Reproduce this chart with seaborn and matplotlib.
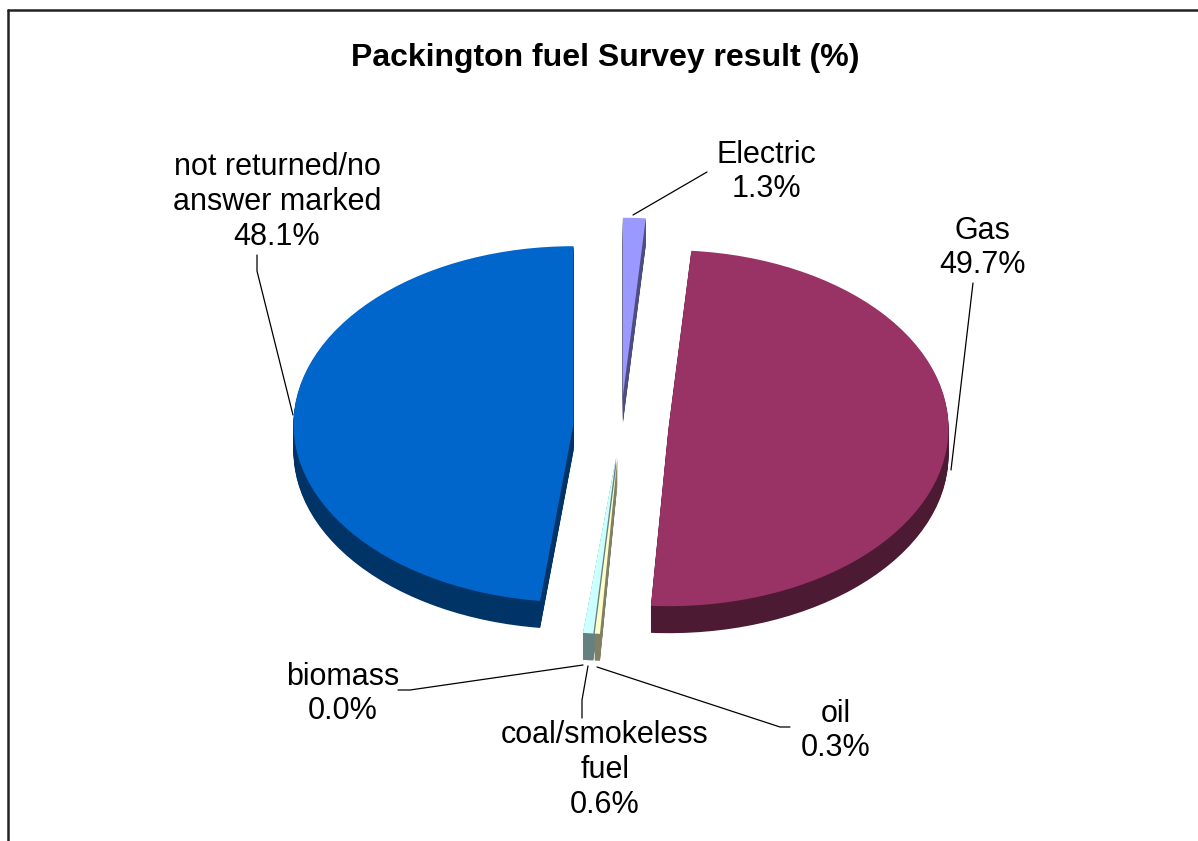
import numpy as np
import matplotlib
matplotlib.use("Agg")
import matplotlib.pyplot as plt
import seaborn as sns
from matplotlib.colors import to_rgb

# data
categories = ["Electric", "Gas", "oil", "coal/smokeless\nfuel", "biomass",
              "not returned/no\nanswer marked"]
shares = [1.3, 49.7, 0.3, 0.6, 0.0, 48.1]
colors = ["#9999FF", "#993366", "#FFFFCC", "#CCFFFF", "#660066", "#0066CC"]
title = "Packington fuel Survey result (%)"

# label centres and leader lines, in image pixels (origin top-left)
label_pos = [(766, 172), (982, 248), (836, 731), (605, 770), (343, 694), (277, 202)]
leaders = [
    [(707, 172), (633, 215)],
    [(973, 283), (951, 470)],
    [(790, 727), (780, 727), (597, 667)],
    [(582, 718), (582, 700), (588, 666)],
    [(398, 690), (410, 690), (583, 665)],
    [(257, 255), (257, 271), (293, 415)],
]

W, H = 1198, 841
cx, cy = 621, 426      # pie centre (px)
rx, ry = 280, 178      # radius along x / y (px) -> tilted look
depth = 27             # thickness (px)
explode = 0.17


def to_data(px, py):
    return (px - cx) / rx, (cy - py) / ry


sns.set_style("white")
plt.rcParams['font.family'] = ['Liberation Sans', 'DejaVu Sans']
plt.rcParams['text.color'] = 'black'

fig = plt.figure(figsize=(W / 100, H / 100), dpi=100)
ax = fig.add_axes([0, 0, 1, 1])

side_colors = [tuple(np.array(to_rgb(c)) * 0.5) for c in colors]

# side walls: stack of darker pies shifted down
for k in range(depth, 0, -1):
    ax.pie(shares, explode=[explode] * len(shares), colors=side_colors,
           startangle=90, counterclock=False, center=(0, -k / ry),
           wedgeprops=dict(linewidth=0))

# top face
ax.pie(shares, explode=[explode] * len(shares), colors=colors,
       startangle=90, counterclock=False, center=(0, 0),
       wedgeprops=dict(linewidth=0))

ax.set_aspect('auto')
ax.set_xlim(-cx / rx, (W - cx) / rx)
ax.set_ylim(-(H - cy) / ry, cy / ry)
ax.axis('off')

# labels
for name, val, pos, line in zip(categories, shares, label_pos, leaders):
    tx, ty = to_data(*pos)
    ax.text(tx, ty, f"{name}\n{val:.1f}%", ha='center', va='center',
            multialignment='center', fontsize=22, linespacing=1.2, color='black')
    pts = np.array([to_data(*p) for p in line])
    ax.plot(pts[:, 0], pts[:, 1], color='black', linewidth=0.9)

fig.text(605 / W, 1 - 58 / H, title, ha='center', va='center',
         fontsize=23, fontweight='bold', color='black')

# chart frame (left and top edges)
fig.add_artist(plt.Line2D([8 / W, 8 / W], [0, 1 - 10 / H], transform=fig.transFigure,
                          color='#222222', linewidth=1.8))
fig.add_artist(plt.Line2D([8 / W, 1], [1 - 10 / H, 1 - 10 / H], transform=fig.transFigure,
                          color='#222222', linewidth=1.8))

fig.savefig("out.png", dpi=100, facecolor='white')
